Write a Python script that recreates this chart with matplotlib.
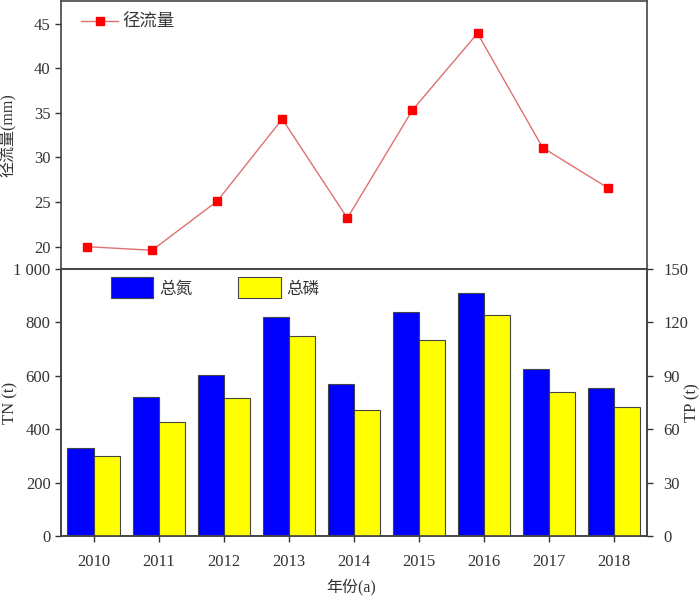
import numpy as np
import matplotlib
matplotlib.use('Agg')
import matplotlib.pyplot as plt
from matplotlib.ticker import FuncFormatter

plt.rcParams['font.family'] = ['Liberation Serif', 'Noto Sans CJK SC']
plt.rcParams['font.size'] = 12
plt.rcParams['axes.unicode_minus'] = False

# data
years = ['2010', '2011', '2012', '2013', '2014', '2015', '2016', '2017', '2018']
runoff = [20.0, 19.6, 25.1, 34.3, 23.2, 35.3, 43.9, 31.1, 26.6]
tn = [330, 520, 603, 821, 568, 841, 909, 627, 555]
tp = [45.3, 64.2, 77.5, 112.4, 71.1, 110.3, 124.3, 81.2, 72.5]

txt = '#333333'
edge = '#444444'
x = np.arange(len(years))

fig = plt.figure(figsize=(7.0, 5.97), dpi=100)
ax1 = fig.add_axes([0.0871, 0.5494, 0.9239 - 0.0871, 0.998 - 0.5494])
ax2 = fig.add_axes([0.0871, 0.1017, 0.9239 - 0.0871, 0.5494 - 0.1017])
ax3 = ax2.twinx()

# top panel: runoff
ax1.plot(x - 0.1, runoff, color='#e07070', lw=1.0, marker='s', ms=6,
         mfc='red', mec='red', label='径流量')
ax1.set_xlim(-0.5, 8.5)
ax1.set_ylim(17.5, 47.5)
ax1.set_yticks([20, 25, 30, 35, 40, 45])
ax1.set_xticks([])
ax1.set_ylabel('径流量(mm)', color=txt, fontsize=11.5)
ax1.yaxis.set_label_coords(-0.075, 0.5)
leg1 = ax1.legend(loc='center left', frameon=False, handlelength=2.15,
                  bbox_to_anchor=(0.034, 0.92), borderaxespad=0, borderpad=0,
                  handletextpad=0.25, prop={'size': 12.5})
for t in leg1.get_texts():
    t.set_color(txt)

# bottom panel: TN / TP bars
w = 0.4
ax2.bar(x - w / 2, tn, width=w, color='#0000ff', edgecolor=edge, lw=0.8, label='总氮')
ax3.bar(x + w / 2, tp, width=w, color='#ffff00', edgecolor=edge, lw=0.8, label='总磷')
ax2.set_xlim(-0.5, 8.5)
ax2.set_ylim(0, 1000)
ax3.set_ylim(0, 150)
ax2.set_yticks([0, 200, 400, 600, 800, 1000])
ax3.set_yticks([0, 30, 60, 90, 120, 150])
ax2.yaxis.set_major_formatter(FuncFormatter(lambda v, p: '1 000' if v == 1000 else f'{v:.0f}'))
ax2.set_xticks(x)
ax2.set_xticklabels(years)
ax2.set_ylabel('TN (t)', color=txt)
ax3.set_ylabel('TP (t)', color=txt)
ax2.yaxis.set_label_coords(-0.072, 0.5)
ax3.yaxis.set_label_coords(1.064, 0.5)
ax2.set_xlabel('年份(a)', color=txt, fontsize=11.5)
ax2.xaxis.set_label_coords(0.495, -0.158)

h1, l1 = ax2.get_legend_handles_labels()
h2, l2 = ax3.get_legend_handles_labels()
leg2 = ax3.legend(h1 + h2, l1 + l2, loc='center left', ncol=2, frameon=False,
                  bbox_to_anchor=(0.085, 0.929), handlelength=2.55, handleheight=1.56,
                  columnspacing=2.75, handletextpad=0.35, borderaxespad=0, borderpad=0,
                  prop={'size': 12})
for t in leg2.get_texts():
    t.set_color(txt)

for a in (ax1, ax2, ax3):
    for s in a.spines.values():
        s.set_color(edge)
        s.set_linewidth(1.2)
    a.tick_params(direction='out', colors=txt, length=4, width=1, labelsize=12)
ax3.tick_params(axis='y', pad=8)
ax2.tick_params(axis='x', pad=9)
ax1.spines['bottom'].set_visible(False)

fig.savefig('out.png', dpi=100)
